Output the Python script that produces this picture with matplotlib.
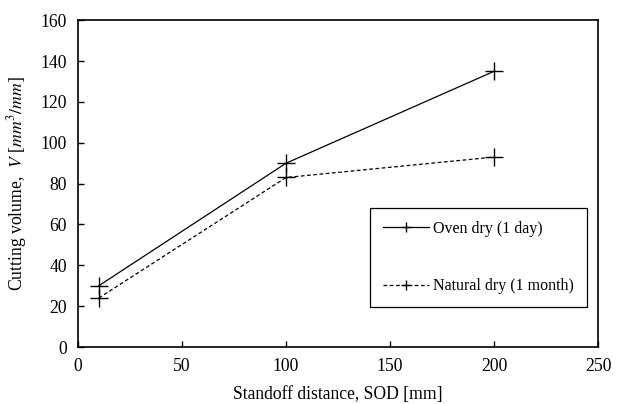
import matplotlib
matplotlib.use("Agg")
import matplotlib.pyplot as plt

sod = [10, 100, 200]
oven_dry = [30, 90, 135]
natural_dry = [24, 83, 93]

x_ticks = [0, 50, 100, 150, 200, 250]
y_ticks = [0, 20, 40, 60, 80, 100, 120, 140, 160]

plt.rcParams['font.family'] = 'Liberation Serif'
plt.rcParams['mathtext.fontset'] = 'stix'
plt.rcParams['font.size'] = 12.7

fig = plt.figure(figsize=(6.29, 4.04), dpi=100)
ax = fig.add_axes([0.124, 0.141, 0.827, 0.809])

ax.plot(sod, oven_dry, color='black', linestyle='-', linewidth=0.9,
        marker='+', markersize=13, markeredgewidth=1.0, label='Oven dry (1 day)')
ax.plot(sod, natural_dry, color='black', linestyle=(0, (3, 2)), linewidth=0.9,
        marker='+', markersize=13, markeredgewidth=1.0, label='Natural dry (1 month)')

ax.set_xlim(0, 250)
ax.set_ylim(0, 160)
ax.set_xticks(x_ticks)
ax.set_yticks(y_ticks)
ax.tick_params(direction='in', length=4, width=1, top=False, right=False, pad=8)
for s in ax.spines.values():
    s.set_linewidth(1.2)

ax.set_xlabel('Standoff distance, SOD [mm]', labelpad=8)
ax.set_ylabel(r'Cutting volume,  $V$ [$mm^3/mm$]', labelpad=8)

leg = ax.legend(loc='lower left', bbox_to_anchor=(0.5615, 0.122), frameon=True,
                fancybox=False, edgecolor='black', framealpha=1, fontsize=11.5,
                labelspacing=2.6, borderpad=0.8, handlelength=2.9, handletextpad=0.25,
                markerscale=0.6, borderaxespad=0)
leg.get_frame().set_linewidth(0.9)

fig.savefig('out.png', dpi=100)
